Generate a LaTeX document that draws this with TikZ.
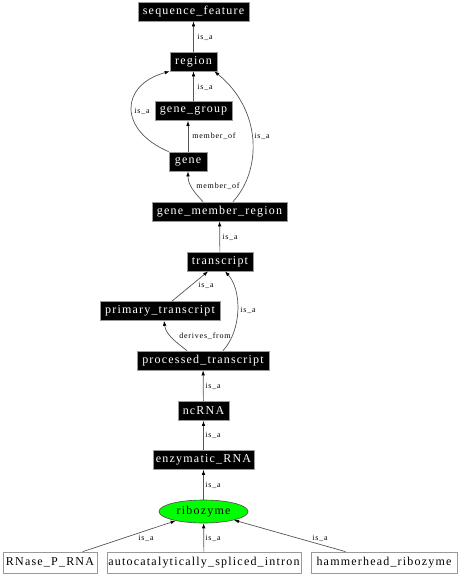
\documentclass[tikz,border=0pt]{standalone}
\usepackage{fontspec}
\setmainfont{Liberation Serif}
\newfontfamily\nodefont[LetterSpace=10]{Liberation Serif}
\usetikzlibrary{arrows.meta,shapes.geometric}
\definecolor{edgecol}{HTML}{555555}
\definecolor{bordercol}{HTML}{999999}
\definecolor{ribogreen}{HTML}{00FF00}
\begin{document}
\begin{tikzpicture}[x=1pt,y=-1pt,
  term/.style={draw=bordercol, fill=black, text=white, font=\nodefont\fontsize{12}{14}\selectfont, inner sep=0pt, minimum height=19pt, line width=0.7pt},
  leaf/.style={draw=bordercol, fill=white, text=black, font=\nodefont\fontsize{12}{14}\selectfont, inner sep=0pt, minimum height=21pt, line width=0.7pt},
  edge/.style={draw=edgecol, line width=0.7pt, -{Latex[length=5pt,width=3.6pt,color=black]}},
  lab/.style={font=\nodefont\fontsize{8}{9}\selectfont, inner sep=0pt, text=black}]
\useasboundingbox (0,0) rectangle (458,576);
% nodes
\node[term, minimum width=111pt] (seq) at (193.5,11.5) {sequence\_feature};
\node[term, minimum width=47pt] (region) at (193.5,61.5) {region};
\node[term, minimum width=77pt] (gg) at (193.5,111) {gene\_group};
\node[term, minimum width=38pt] (gene) at (188,161.5) {gene};
\node[term, minimum width=135pt] (gmr) at (219.5,211.5) {gene\_member\_region};
\node[term, minimum width=66pt] (tr) at (220,261.5) {transcript};
\node[term, minimum width=120pt] (ptr) at (160,311) {primary\_transcript};
\node[term, minimum width=132pt] (proc) at (203,360.5) {processed\_transcript};
\node[term, minimum width=51pt] (nc) at (203.5,411) {ncRNA};
\node[term, minimum width=101pt] (enz) at (203.5,460) {enzymatic\_RNA};
\node[ellipse, draw=black!70, fill=ribogreen, text=black, font=\nodefont\fontsize{12}{14}\selectfont, inner sep=0pt, minimum width=89pt, minimum height=23pt, line width=0.6pt] (ribo) at (203.5,511.5) {ribozyme};
\node[leaf, minimum width=94pt] (rnase) at (50,562.5) {RNase\_P\_RNA};
\node[leaf, minimum width=194pt] (auto) at (204,562.5) {autocatalytically\_spliced\_intron};
\node[leaf, minimum width=146pt] (ham) at (384,562.5) {hammerhead\_ribozyme};
% edges
\draw[edge] (region) -- (seq);
\draw[edge] (gg) -- (region);
\draw[edge] (gene.north west) .. controls (118,130) and (120,85) .. (region.south west);
\draw[edge] (gene.north) -- (gene.north |- gg.south);
\draw[edge] ([xshift=-16.5pt]gmr.north) .. controls (194,192) and (188,185) .. (gene.south);
\draw[edge] ([xshift=13.5pt]gmr.north) .. controls (262,170) and (262,110) .. ([xshift=-3pt]region.south east);
\draw[edge] (tr) -- (gmr);
\draw[edge] (ptr) -- (tr);
\draw[edge] ([xshift=20pt]proc.north) .. controls (242,330) and (242,290) .. ([xshift=5pt]tr.south);
\draw[edge] ([xshift=-16pt]proc.north) .. controls (176,342) and (166,335) .. ([xshift=4pt]ptr.south);
\draw[edge] (nc) -- (proc);
\draw[edge] (enz) -- (nc);
\draw[edge] (ribo) -- (enz);
\draw[edge] (rnase) -- (ribo);
\draw[edge] (auto) -- (ribo);
\draw[edge] (ham) -- (ribo);
% labels
\node[lab] (l1) at (205,37) {is\_a};
\node[lab] (l2) at (205,87) {is\_a};
\node[lab] (l3) at (142,111) {is\_a};
\node[lab] (l4) at (214,136) {member\_of};
\node[lab] (l5) at (262,136) {is\_a};
\node[lab] (l6) at (218,186) {member\_of};
\node[lab] (l7) at (230,237) {is\_a};
\node[lab] (l8) at (206,285) {is\_a};
\node[lab] (l9) at (248,310) {is\_a};
\node[lab] (l10) at (205,336) {derives\_from};
\node[lab] (l11) at (213,386) {is\_a};
\node[lab] (l12) at (213,435) {is\_a};
\node[lab] (l13) at (213,485) {is\_a};
\node[lab] (l14) at (146,538) {is\_a};
\node[lab] (l15) at (213,538) {is\_a};
\node[lab] (l16) at (320,538) {is\_a};
\end{tikzpicture}
\end{document}
